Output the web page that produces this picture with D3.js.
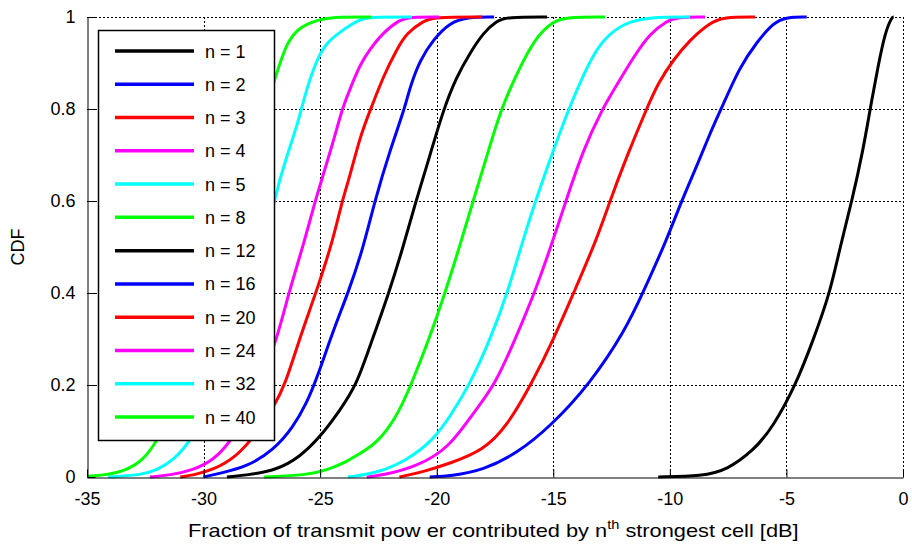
<!DOCTYPE html>
<html>
<head>
<meta charset="utf-8">
<script src="https://cdn.jsdelivr.net/npm/d3@7"></script>
<style>
  html, body { margin: 0; padding: 0; background: #fff; }
  svg { display: block; }
  text { font-family: "Liberation Sans", Arial, sans-serif; fill: #000; }
</style>
</head>
<body>
<svg id="chart" width="912" height="545"></svg>
<script>
// Axis ticks
const xTicks = [-35, -30, -25, -20, -15, -10, -5, 0];
const yTicks = [0, 0.2, 0.4, 0.6, 0.8, 1];

// Series: n-th strongest cell, and line colours
const seriesN = [1, 2, 3, 4, 5, 8, 12, 16, 20, 24, 32, 40];
const seriesColors = ["#000000", "#0000ff", "#ff0000", "#ff00ff", "#00ffff", "#00ff00",
                      "#000000", "#0000ff", "#ff0000", "#ff00ff", "#00ffff", "#00ff00"];

// Empirical CDF knots per series: [dB, CDF]
const cdfN1 = [[-10.5,0],[-8.6,0.002],[-7.56,0.015],[-6.4,0.058],[-5.57,0.109],[-4.6,0.2],[-3.85,0.298],[-3.13,0.4],[-2.7,0.5],[-2.19,0.6],[-1.71,0.711],[-1.41,0.8],[-1.07,0.893],[-0.77,0.966],[-0.48,1],[-0.4,1]];
const cdfN2 = [[-20.3,0],[-19.4,0.002],[-18.0,0.015],[-16.57,0.051],[-15.14,0.109],[-13.4,0.204],[-11.9,0.32],[-11.16,0.4],[-10.13,0.516],[-9.5,0.6],[-8.85,0.675],[-8.27,0.748],[-7.8,0.8],[-6.99,0.893],[-6.27,0.945],[-5.56,0.988],[-4.98,1],[-4.13,1]];
const cdfN3 = [[-21.6,0],[-20.6,0.011],[-19.4,0.03],[-18.0,0.058],[-17.0,0.109],[-15.92,0.204],[-15.0,0.298],[-14.13,0.4],[-13.14,0.516],[-12.57,0.6],[-11.85,0.697],[-11.0,0.8],[-10.5,0.857],[-9.85,0.907],[-9.13,0.951],[-8.27,0.988],[-7.7,1],[-6.34,1]];
const cdfN4 = [[-23.0,0],[-22.3,0.004],[-20.86,0.022],[-19.43,0.065],[-18.44,0.139],[-17.5,0.2],[-16.65,0.298],[-15.8,0.4],[-15.0,0.516],[-14.46,0.6],[-13.72,0.711],[-12.9,0.8],[-12.28,0.852],[-11.57,0.912],[-10.85,0.965],[-10.13,0.991],[-9.7,1],[-8.49,1]];
const cdfN5 = [[-23.8,0],[-22.57,0.008],[-21.28,0.036],[-20.15,0.08],[-19.43,0.131],[-18.55,0.204],[-17.7,0.3],[-16.96,0.4],[-16.3,0.516],[-15.76,0.6],[-15.14,0.69],[-14.35,0.8],[-13.42,0.907],[-12.86,0.951],[-12.0,0.987],[-10.85,1],[-9.13,1]];
const cdfN8 = [[-27.4,0],[-25.58,0.004],[-24.72,0.015],[-23.86,0.033],[-23.3,0.051],[-22.57,0.073],[-21.71,0.131],[-21.1,0.2],[-20.29,0.305],[-19.64,0.4],[-18.93,0.516],[-18.44,0.6],[-17.85,0.697],[-17.25,0.8],[-16.42,0.893],[-15.7,0.959],[-15.0,0.991],[-14.42,1],[-12.78,1]];
const cdfN12 = [[-29.0,0],[-28.15,0.004],[-26.86,0.015],[-25.86,0.044],[-25.0,0.087],[-24.15,0.145],[-23.44,0.2],[-22.86,0.285],[-22.05,0.4],[-21.44,0.5],[-20.89,0.6],[-20.43,0.675],[-19.71,0.8],[-19.14,0.871],[-18.57,0.922],[-18.0,0.966],[-17.43,0.991],[-17.0,1],[-15.27,1]];
const cdfN16 = [[-30.0,0],[-29.3,0.008],[-28.15,0.022],[-27.0,0.058],[-26.15,0.109],[-25.58,0.16],[-25.1,0.22],[-24.43,0.32],[-23.8,0.4],[-23.15,0.498],[-22.66,0.6],[-22.0,0.711],[-21.38,0.8],[-21.14,0.849],[-20.71,0.907],[-20.15,0.951],[-19.43,0.988],[-18.71,1],[-17.54,1]];
const cdfN20 = [[-31.0,0],[-30.45,0.004],[-29.6,0.015],[-28.58,0.044],[-27.72,0.095],[-27.0,0.152],[-26.5,0.2],[-25.86,0.305],[-25.18,0.4],[-24.44,0.516],[-24.06,0.6],[-23.72,0.654],[-23.29,0.74],[-22.83,0.8],[-22.29,0.871],[-21.71,0.93],[-21.28,0.966],[-20.57,0.991],[-20.15,1],[-18.05,1]];
const cdfN24 = [[-32.3,0],[-31.44,0.004],[-30.45,0.015],[-29.6,0.036],[-28.73,0.08],[-27.6,0.2],[-26.86,0.298],[-26.35,0.4],[-25.65,0.516],[-25.22,0.6],[-24.44,0.727],[-24.06,0.8],[-23.72,0.843],[-23.29,0.897],[-22.86,0.93],[-22.3,0.966],[-21.57,0.995],[-21.14,1],[-19.9,1]];
const cdfN32 = [[-34.1,0],[-32.7,0.004],[-32.0,0.015],[-31.3,0.036],[-30.5,0.08],[-29.3,0.2],[-28.3,0.33],[-27.6,0.45],[-26.9,0.62],[-26.43,0.697],[-26.0,0.763],[-25.8,0.8],[-25.58,0.843],[-25.15,0.907],[-24.72,0.945],[-24.0,0.973],[-23.3,0.995],[-22.9,1],[-21.06,1]];
const cdfN40 = [[-35.5,0],[-34.15,0.004],[-33.3,0.015],[-32.6,0.036],[-31.95,0.08],[-30.8,0.2],[-29.6,0.38],[-28.5,0.58],[-27.6,0.76],[-26.86,0.879],[-26.43,0.945],[-25.86,0.98],[-25.0,0.995],[-24.5,1],[-22.8,1]];

const seriesData = [cdfN1, cdfN2, cdfN3, cdfN4, cdfN5, cdfN8, cdfN12, cdfN16, cdfN20, cdfN24, cdfN32, cdfN40];

const xLabel = "Fraction of transmit pow er contributed by n";
const xLabelSup = "th";
const xLabelTail = " strongest cell [dB]";
const yLabel = "CDF";

// Layout
const plot = { left: 87, top: 17, right: 903, bottom: 477 };
const svg = d3.select("#chart");

const x = d3.scaleLinear().domain([-35, 0]).range([plot.left, plot.right]);
const y = d3.scaleLinear().domain([0, 1]).range([plot.bottom, plot.top]);

// Dotted grid (also forms the top and right edges)
const grid = svg.append("g").attr("stroke", "#000").attr("stroke-width", 1)
  .attr("stroke-dasharray", "2,2").attr("shape-rendering", "crispEdges").attr("fill", "none");
grid.selectAll("line.gx").data(xTicks.filter(d => d !== -35)).join("line")
  .attr("x1", d => Math.round(x(d)) + 0.5).attr("x2", d => Math.round(x(d)) + 0.5)
  .attr("y1", plot.top).attr("y2", plot.bottom);
grid.selectAll("line.gy").data(yTicks.filter(d => d !== 0)).join("line")
  .attr("y1", d => Math.round(y(d)) + 0.5).attr("y2", d => Math.round(y(d)) + 0.5)
  .attr("x1", plot.left).attr("x2", plot.right);

// Clip curves to the axes box
svg.append("clipPath").attr("id", "plotClip").append("rect")
  .attr("x", plot.left).attr("y", plot.top - 3)
  .attr("width", plot.right - plot.left).attr("height", plot.bottom - plot.top + 6);

const line = d3.line().x(d => x(d[0])).y(d => y(d[1])).curve(d3.curveBasis);
const curves = svg.append("g").attr("clip-path", "url(#plotClip)");
seriesData.forEach((s, i) => {
  curves.append("path").datum(s)
    .attr("d", line).attr("fill", "none")
    .attr("stroke", seriesColors[i]).attr("stroke-width", 3)
    .attr("stroke-linejoin", "round").attr("stroke-linecap", "butt");
});

// Axes with inward ticks
const xAxis = svg.append("g").attr("transform", `translate(0,${plot.bottom + 0.5})`)
  .call(d3.axisBottom(x).tickValues(xTicks).tickFormat(d => String(d))
    .tickSizeInner(-8).tickSizeOuter(0).tickPadding(15));
const yAxis = svg.append("g").attr("transform", `translate(${plot.left + 0.5},0)`)
  .call(d3.axisLeft(y).tickValues(yTicks).tickFormat(d => d === 0 || d === 1 ? String(d) : d.toFixed(1))
    .tickSizeInner(-8).tickSizeOuter(0).tickPadding(12));
[xAxis, yAxis].forEach(a => {
  a.selectAll("path.domain").attr("stroke", "#000").attr("stroke-width", 1);
  a.selectAll(".tick line").attr("stroke", "#000").attr("stroke-width", 1);
  a.selectAll(".tick text").attr("font-size", 18).attr("font-family", "Liberation Sans, Arial, sans-serif").attr("fill", "#000");
});

// Axis titles
const xt = svg.append("text").attr("x", 188).attr("y", 537).attr("font-size", 18);
xt.append("tspan").text(xLabel);
xt.append("tspan").attr("font-size", 12).attr("dy", -8).text(xLabelSup);
xt.append("tspan").attr("dy", 8).text(xLabelTail);
const w = xt.node().getBBox().width;
xt.attr("transform", `translate(188,0) scale(${611 / w},1) translate(-188,0)`);

svg.append("text").attr("transform", "translate(24,247) rotate(-90)")
  .attr("text-anchor", "middle").attr("font-size", 18).text(yLabel);

// Legend
const legend = svg.append("g");
legend.append("rect").attr("x", 98.5).attr("y", 30.5).attr("width", 176).attr("height", 410)
  .attr("fill", "#fff").attr("stroke", "#000").attr("stroke-width", 1.5);
const rowY = d3.scaleLinear().domain([0, seriesN.length - 1]).range([51, 417]);
seriesN.forEach((n, i) => {
  legend.append("line").attr("x1", 115).attr("x2", 194)
    .attr("y1", rowY(i)).attr("y2", rowY(i))
    .attr("stroke", seriesColors[i]).attr("stroke-width", 3.5);
  legend.append("text").attr("x", 205).attr("y", rowY(i) + 6.5)
    .attr("font-size", 18).text(`n = ${n}`);
});
</script>
</body>
</html>
